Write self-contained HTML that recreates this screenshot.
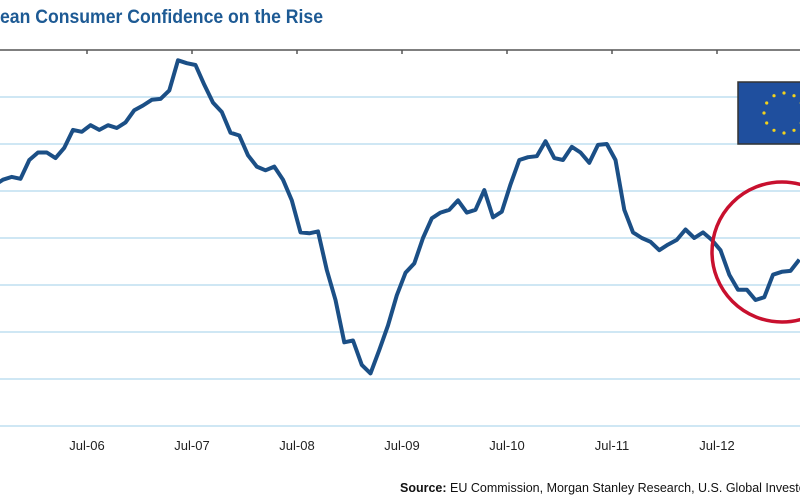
<!DOCTYPE html>
<html><head><meta charset="utf-8"><style>
body{margin:0;background:#fff;}
svg{display:block;font-family:"Liberation Sans Narrow","Liberation Sans",sans-serif;}
</style></head><body>
<svg id="chart" width="800" height="500" viewBox="0 0 800 500">
<text x="0" y="23" fill="#1d5a94" font-size="19" font-weight="bold" textLength="323" lengthAdjust="spacingAndGlyphs">ean Consumer Confidence on the Rise</text>
<g id="grid"></g>
<line x1="0" y1="50" x2="800" y2="50" stroke="#555" stroke-width="1.5"/>
<g id="xaxis"></g>
<path id="line" fill="none" stroke="#1b4f86" stroke-width="4" stroke-linejoin="round"/>
<circle cx="782" cy="252" r="70" fill="none" stroke="#c8102e" stroke-width="3.5"/>
<g>
<rect x="738" y="82" width="70" height="62" fill="#1f4f9e" stroke="#333" stroke-width="1.5"/>
<g id="stars"></g>
</g>
<text x="400" y="492" font-size="12.5" fill="#111"><tspan font-weight="bold">Source:</tspan> EU Commission, Morgan Stanley Research, U.S. Global Investors</text>
</svg>
<script>
const gridValues=[-5,-10,-15,-20,-25,-30,-35,-40];
const tickLabels=["Jul-06","Jul-07","Jul-08","Jul-09","Jul-10","Jul-11","Jul-12"];
const tickMonths=[10,22,34,46,58,70,82];
// monthly values starting Sep-05
const values=[-14.4,-13.8,-13.5,-13.7,-11.7,-10.9,-10.9,-11.5,-10.4,-8.5,-8.7,-8.0,-8.5,-8.0,-8.3,-7.7,-6.4,-5.9,-5.3,-5.2,-4.3,-1.1,-1.4,-1.6,-3.7,-5.6,-6.6,-8.8,-9.1,-11.2,-12.4,-12.8,-12.4,-13.8,-16.0,-19.4,-19.5,-19.3,-23.4,-26.6,-31.1,-30.9,-33.5,-34.4,-31.9,-29.3,-26.1,-23.7,-22.7,-20.0,-17.9,-17.3,-17.0,-16.0,-17.3,-17.0,-14.9,-17.8,-17.2,-14.3,-11.7,-11.4,-11.3,-9.7,-11.5,-11.7,-10.3,-10.9,-12.0,-10.1,-10.0,-11.7,-17.0,-19.4,-20.0,-20.4,-21.3,-20.7,-20.2,-19.1,-20.0,-19.4,-20.2,-21.3,-23.9,-25.5,-25.5,-26.6,-26.3,-23.9,-23.6,-23.5,-22.3];
const NS="http://www.w3.org/2000/svg";
const y=v=>50-v*9.4;
const x=i=>87+(i-10.6)*8.75;
const grid=document.getElementById('grid');
gridValues.forEach(v=>{
  const l=document.createElementNS(NS,'line');
  l.setAttribute('x1',0);l.setAttribute('x2',800);
  l.setAttribute('y1',y(v));l.setAttribute('y2',y(v));
  l.setAttribute('stroke','#cfe7f4');l.setAttribute('stroke-width','2');
  
  
  grid.appendChild(l);
});
const xa=document.getElementById('xaxis');
tickLabels.forEach((t,k)=>{
  const px=87+(tickMonths[k]-10)*8.75;
  const tk=document.createElementNS(NS,'line');
  tk.setAttribute('x1',px);tk.setAttribute('x2',px);tk.setAttribute('y1',50);tk.setAttribute('y2',54);
  tk.setAttribute('stroke','#555');tk.setAttribute('stroke-width','1.5');
  
  
  xa.appendChild(tk);
  const tx=document.createElementNS(NS,'text');
  tx.setAttribute('x',px);tx.setAttribute('y',450);tx.setAttribute('text-anchor','middle');
  tx.setAttribute('font-size','13');tx.setAttribute('fill','#222');
  tx.textContent=t;
  
  
  xa.appendChild(tx);
});
document.getElementById('line').setAttribute('d',values.map((v,i)=>(i?'L':'M')+x(i).toFixed(1)+','+y(v).toFixed(1)).join(''));
const st=document.getElementById('stars');
for(let k=0;k<12;k++){
  const a=k*Math.PI/6;
  const c=document.createElementNS(NS,'circle');
  c.setAttribute('cx',(784+20*Math.sin(a)).toFixed(1));
  c.setAttribute('cy',(113-20*Math.cos(a)).toFixed(1));
  c.setAttribute('r','1.6');c.setAttribute('fill','#f3d21b');
  
  
  st.appendChild(c);
}
</script>
</body></html>
